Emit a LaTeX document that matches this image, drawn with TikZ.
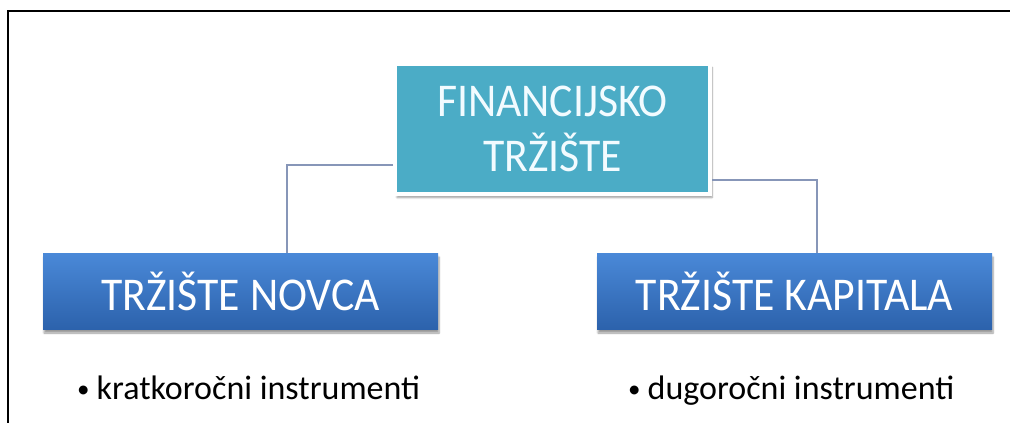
\documentclass[tikz,border=0pt]{standalone}
\usepackage{fontspec}
\setmainfont{Carlito}
\newfontfamily\boxfont[FakeStretch=0.93]{Carlito}
\usetikzlibrary{shadows.blur,calc}
\definecolor{tealbox}{HTML}{4BACC6}
\definecolor{bluetop}{HTML}{4A89D8}
\definecolor{bluebot}{HTML}{2C62AC}
\definecolor{linecol}{HTML}{8796B8}
\definecolor{lighttext}{HTML}{F2FBFF}
\newcommand{\mybul}{{\fontsize{25}{25}\selectfont\raisebox{1.5pt}{•}}\hspace{7pt}}
\tikzset{
  topbox/.style={draw=white, line width=4pt, fill=tealbox, minimum width=315pt, minimum height=130pt,
    text=lighttext, align=center, inner sep=0pt,
    font=\boxfont\fontsize{47}{55}\selectfont,
    blur shadow={shadow xshift=2pt, shadow yshift=-4pt, shadow blur steps=6, shadow opacity=40}},
  subbox/.style={top color=bluetop, bottom color=bluebot, draw=none, minimum width=395pt, minimum height=76pt,
    text=white, inner sep=0pt, font=\boxfont\fontsize{47}{55}\selectfont,
    blur shadow={shadow xshift=1pt, shadow yshift=-4pt, shadow blur steps=6, shadow opacity=40}},
  bullettext/.style={text=black, inner sep=0pt, font=\fontsize{34}{40}\selectfont},
  conn/.style={draw=linecol, line width=1.8pt}
}
\begin{document}
\begin{tikzpicture}[x=1pt,y=-1pt]
\useasboundingbox (0,0) rectangle (1010,423);
\draw[line width=2.5pt] (8,423) -- (8,11) -- (1011,11);
\node[topbox] (fin) at (552.5,128.5) {FINANCIJSKO\\TRŽIŠTE};
\node[subbox] (nov) at (240.5,291) {TRŽIŠTE NOVCA};
\node[subbox] (kap) at (794.5,291) {TRŽIŠTE KAPITALA};
\node[bullettext, anchor=base west] (b1) at (77,399) {\mybul kratkoročni instrumenti};
\node[bullettext, anchor=base west] (b2) at (628,399) {\mybul dugoročni instrumenti};
\draw[conn] (fin.west |- 0,165) -| (nov.north -| 287,0);
\draw[conn] (fin.east |- 0,180) -| (kap.north -| 817,0);
\end{tikzpicture}
\end{document}
